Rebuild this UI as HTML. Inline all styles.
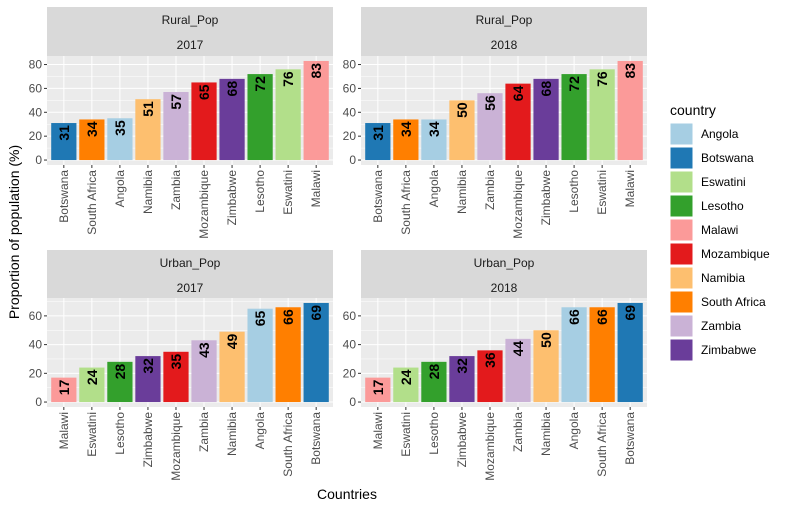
<!DOCTYPE html>
<html><head><meta charset="utf-8"><style>
body{margin:0;background:#fff}
svg text{font-family:"Liberation Sans",Arial,sans-serif}
</style></head><body>
<svg id="chart" width="787" height="511" xmlns="http://www.w3.org/2000/svg">
<rect width="787" height="511" fill="#fff"/>
</svg>
<script>
const colors = {Angola:"#A6CEE3",Botswana:"#1F78B4",Eswatini:"#B2DF8A",Lesotho:"#33A02C",Malawi:"#FB9A99",Mozambique:"#E31A1C",Namibia:"#FDBF6F","South Africa":"#FF7F00",Zambia:"#CAB2D6",Zimbabwe:"#6A3D9A"};
const legendCountries = ["Angola","Botswana","Eswatini","Lesotho","Malawi","Mozambique","Namibia","South Africa","Zambia","Zimbabwe"];
const rural2017Countries = ["Botswana","South Africa","Angola","Namibia","Zambia","Mozambique","Zimbabwe","Lesotho","Eswatini","Malawi"];
const rural2017Values = [31,34,35,51,57,65,68,72,76,83];
const rural2018Countries = ["Botswana","South Africa","Angola","Namibia","Zambia","Mozambique","Zimbabwe","Lesotho","Eswatini","Malawi"];
const rural2018Values = [31,34,34,50,56,64,68,72,76,83];
const urban2017Countries = ["Malawi","Eswatini","Lesotho","Zimbabwe","Mozambique","Zambia","Namibia","Angola","South Africa","Botswana"];
const urban2017Values = [17,24,28,32,35,43,49,65,66,69];
const urban2018Countries = ["Malawi","Eswatini","Lesotho","Zimbabwe","Mozambique","Zambia","Namibia","Angola","South Africa","Botswana"];
const urban2018Values = [17,24,28,32,36,44,50,66,66,69];
const ruralTicks = [0,20,40,60,80];
const urbanTicks = [0,20,40,60];

const svg = document.getElementById('chart');
const NS = "http://www.w3.org/2000/svg";
function mk(tag, attrs, parent){const e=document.createElementNS(NS,tag);for(const k in attrs)e.setAttribute(k,attrs[k]);(parent||svg).appendChild(e);return e;}

function panel(x0, stripTop, plotTop, plotBot, title, year, cats, vals, ticks, rowMax, name){
  const g = mk('g',{});
  
  
  const x1 = x0+286;
  const strip = mk('rect',{x:x0,y:stripTop,width:286,height:plotTop-stripTop,fill:'#D9D9D9'},g);
  
  
  const t1 = mk('text',{x:x0+143,y:stripTop+17,'text-anchor':'middle','font-size':12,fill:'#1a1a1a'},g); t1.textContent=title;
  
  
  const t2 = mk('text',{x:x0+143,y:stripTop+42,'text-anchor':'middle','font-size':12,fill:'#1a1a1a'},g); t2.textContent=year;
  
  
  const bg = mk('rect',{x:x0,y:plotTop,width:286,height:plotBot-plotTop,fill:'#EBEBEB'},g);
  
  
  const hi = rowMax*1.05, lo = -rowMax*0.05;
  const ys = v => plotBot - (v-lo)/(hi-lo)*(plotBot-plotTop);
  const n = cats.length, bw = 286/(n+0.2);
  const xs = i => x0 + bw*(0.6+i);
  for(let i=0;i<ticks.length-1;i++){const m=(ticks[i]+ticks[i+1])/2; mk('line',{x1:x0,x2:x1,y1:ys(m),y2:ys(m),stroke:'#fff','stroke-width':0.5},g);}
  if(ys(ticks[ticks.length-1]+10)>plotTop){const m=ticks[ticks.length-1]+10; mk('line',{x1:x0,x2:x1,y1:ys(m),y2:ys(m),stroke:'#fff','stroke-width':0.5},g);}
  ticks.forEach(t=>{
    mk('line',{x1:x0,x2:x1,y1:ys(t),y2:ys(t),stroke:'#fff','stroke-width':1},g);
    mk('line',{x1:x0-3,x2:x0,y1:ys(t),y2:ys(t),stroke:'#333','stroke-width':1},g);
    const tl = mk('text',{x:x0-5,y:ys(t)+4,'text-anchor':'end','font-size':12,fill:'#4D4D4D'},g); tl.textContent=t;
    
    
  });
  cats.forEach((c,i)=>{
    const cx = xs(i);
    mk('line',{x1:cx,x2:cx,y1:plotTop,y2:plotBot,stroke:'#fff','stroke-width':1},g);
  });
  cats.forEach((c,i)=>{
    const cx = xs(i), w = bw*0.9, v = vals[i];
    const r = mk('rect',{x:cx-w/2,y:ys(v),width:w,height:ys(0)-ys(v),fill:colors[c]},g);
    
    
    const vl = mk('text',{x:0,y:0,transform:`translate(${cx+5},${ys(v)+2}) rotate(-90)`,'text-anchor':'end','font-size':14,'font-weight':'bold',fill:'#000'},g); vl.textContent=v;
    
    
    mk('line',{x1:cx,x2:cx,y1:plotBot,y2:plotBot+3,stroke:'#333','stroke-width':1},g);
    const xl = mk('text',{x:0,y:0,transform:`translate(${cx+4},${plotBot+5}) rotate(-90)`,'text-anchor':'end','font-size':12,fill:'#4D4D4D'},g); xl.textContent=c;
    
    
  });
}
const rMax = Math.max(...rural2017Values, ...rural2018Values);
const uMax = Math.max(...urban2017Values, ...urban2018Values);
panel(47,7,56,165,'Rural_Pop','2017',rural2017Countries,rural2017Values,ruralTicks,rMax,'rural-2017');
panel(361,7,56,165,'Rural_Pop','2018',rural2018Countries,rural2018Values,ruralTicks,rMax,'rural-2018');
panel(47,250,298,407,'Urban_Pop','2017',urban2017Countries,urban2017Values,urbanTicks,uMax,'urban-2017');
panel(361,250,298,407,'Urban_Pop','2018',urban2018Countries,urban2018Values,urbanTicks,uMax,'urban-2018');

const yt = mk('text',{x:0,y:0,transform:'translate(19,232) rotate(-90)','text-anchor':'middle','font-size':14,fill:'#000'}); yt.textContent='Proportion of population (%)';


const xt = mk('text',{x:347,y:499,'text-anchor':'middle','font-size':14,fill:'#000'}); xt.textContent='Countries';


const lt = mk('text',{x:670,y:115,'font-size':14,fill:'#000'}); lt.textContent='country';


legendCountries.forEach((c,i)=>{
  const y = 123 + i*24;
  const k = mk('rect',{x:670,y:y,width:23,height:22,fill:colors[c],stroke:'#fff','stroke-width':1});
  
  
  const l = mk('text',{x:701,y:y+15,'font-size':12,fill:'#000'}); l.textContent=c;
  
  
});
</script>
</body></html>
